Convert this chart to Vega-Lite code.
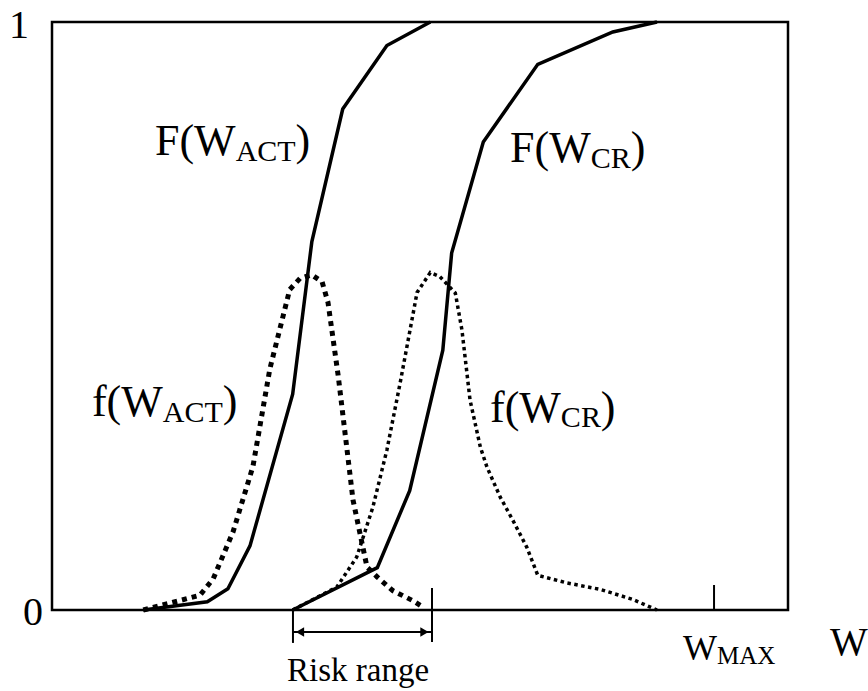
{
  "$schema": "https://vega.github.io/schema/vega-lite/v6.json",
  "width": 736,
  "height": 588,
  "autosize": "none",
  "padding": {"left": 52, "top": 22, "right": 80, "bottom": 81},
  "background": "white",
  "config": {
    "view": {"stroke": "black", "strokeWidth": 2.5},
    "text": {"font": "Liberation Serif", "color": "black"}
  },
  "datasets": {
    "curves": [
      {"series": "F_ACT", "W": 12.4, "v": 0},
      {"series": "F_ACT", "W": 21.1, "v": 0.014},
      {"series": "F_ACT", "W": 23.9, "v": 0.036},
      {"series": "F_ACT", "W": 26.9, "v": 0.109},
      {"series": "F_ACT", "W": 32.7, "v": 0.367},
      {"series": "F_ACT", "W": 35.3, "v": 0.626},
      {"series": "F_ACT", "W": 39.5, "v": 0.852},
      {"series": "F_ACT", "W": 45.5, "v": 0.96},
      {"series": "F_ACT", "W": 51.4, "v": 1.0},
      {"series": "F_CR", "W": 32.7, "v": 0},
      {"series": "F_CR", "W": 44.2, "v": 0.072},
      {"series": "F_CR", "W": 48.6, "v": 0.203},
      {"series": "F_CR", "W": 53.1, "v": 0.442},
      {"series": "F_CR", "W": 54.3, "v": 0.607},
      {"series": "F_CR", "W": 58.6, "v": 0.796},
      {"series": "F_CR", "W": 66.0, "v": 0.928},
      {"series": "F_CR", "W": 76.2, "v": 0.983},
      {"series": "F_CR", "W": 82.2, "v": 1.0},
      {"series": "f_ACT", "W": 12.4, "v": 0},
      {"series": "f_ACT", "W": 20.1, "v": 0.025},
      {"series": "f_ACT", "W": 21.9, "v": 0.053},
      {"series": "f_ACT", "W": 24.6, "v": 0.133},
      {"series": "f_ACT", "W": 27.3, "v": 0.244},
      {"series": "f_ACT", "W": 29.6, "v": 0.41},
      {"series": "f_ACT", "W": 31.4, "v": 0.5},
      {"series": "f_ACT", "W": 32.3, "v": 0.545},
      {"series": "f_ACT", "W": 33.7, "v": 0.564},
      {"series": "f_ACT", "W": 35.3, "v": 0.57},
      {"series": "f_ACT", "W": 36.7, "v": 0.558},
      {"series": "f_ACT", "W": 37.5, "v": 0.523},
      {"series": "f_ACT", "W": 38.9, "v": 0.397},
      {"series": "f_ACT", "W": 40.9, "v": 0.187},
      {"series": "f_ACT", "W": 42.8, "v": 0.073},
      {"series": "f_ACT", "W": 44.2, "v": 0.056},
      {"series": "f_ACT", "W": 46.3, "v": 0.033},
      {"series": "f_ACT", "W": 49.0, "v": 0.016},
      {"series": "f_ACT", "W": 50.4, "v": 0.005},
      {"series": "f_CR", "W": 32.7, "v": 0},
      {"series": "f_CR", "W": 38.7, "v": 0.039},
      {"series": "f_CR", "W": 41.4, "v": 0.09},
      {"series": "f_CR", "W": 43.6, "v": 0.175},
      {"series": "f_CR", "W": 45.5, "v": 0.272},
      {"series": "f_CR", "W": 47.3, "v": 0.386},
      {"series": "f_CR", "W": 49.6, "v": 0.54},
      {"series": "f_CR", "W": 51.4, "v": 0.574},
      {"series": "f_CR", "W": 52.7, "v": 0.567},
      {"series": "f_CR", "W": 54.8, "v": 0.539},
      {"series": "f_CR", "W": 55.7, "v": 0.476},
      {"series": "f_CR", "W": 56.8, "v": 0.357},
      {"series": "f_CR", "W": 58.2, "v": 0.277},
      {"series": "f_CR", "W": 59.1, "v": 0.243},
      {"series": "f_CR", "W": 60.9, "v": 0.192},
      {"series": "f_CR", "W": 62.6, "v": 0.153},
      {"series": "f_CR", "W": 64.5, "v": 0.107},
      {"series": "f_CR", "W": 66.0, "v": 0.059},
      {"series": "f_CR", "W": 70.0, "v": 0.046},
      {"series": "f_CR", "W": 74.5, "v": 0.035},
      {"series": "f_CR", "W": 78.9, "v": 0.018},
      {"series": "f_CR", "W": 82.2, "v": 0}
    ],
    "ticks": [
      {"W": 32.74, "v": 0, "v2": -0.056},
      {"W": 51.63, "v": 0.0374, "v2": -0.0544},
      {"W": 89.95, "v": 0, "v2": 0.0425}
    ],
    "span": [{"W": 32.74, "W2": 51.63, "v": -0.0374}],
    "heads": [
      {"W": 33.7, "v": -0.0374, "end": "left"},
      {"W": 50.6, "v": -0.0374, "end": "right"}
    ],
    "labels": [
      {"kind": "main", "text": "F(W", "W": 13.99, "v": 0.7738},
      {"kind": "sub", "text": "ACT", "W": 24.95, "v": 0.7636},
      {"kind": "main", "text": ")", "W": 33.1, "v": 0.7738},
      {"kind": "main", "text": "F(W", "W": 62.23, "v": 0.7619},
      {"kind": "sub", "text": "CR", "W": 73.19, "v": 0.7517},
      {"kind": "main", "text": ")", "W": 78.62, "v": 0.7619},
      {"kind": "main", "text": "f(W", "W": 5.43, "v": 0.3299},
      {"kind": "sub", "text": "ACT", "W": 15.06, "v": 0.3197},
      {"kind": "main", "text": ")", "W": 23.21, "v": 0.3299},
      {"kind": "main", "text": "f(W", "W": 59.51, "v": 0.3197},
      {"kind": "sub", "text": "CR", "W": 69.14, "v": 0.3112},
      {"kind": "main", "text": ")", "W": 74.57, "v": 0.3197},
      {"kind": "num", "text": "1", "W": -4.48, "v": 0.9728},
      {"kind": "num", "text": "0", "W": -2.58, "v": -0.0255},
      {"kind": "wmax", "text": "W", "W": 85.73, "v": -0.085},
      {"kind": "wmaxsub", "text": "MAX", "W": 90.35, "v": -0.0918},
      {"kind": "title", "text": "W", "W": 105.71, "v": -0.0765},
      {"kind": "note", "text": "Risk range", "W": 31.93, "v": -0.1207}
    ]
  },
  "encoding": {
    "x": {"field": "W", "type": "quantitative", "scale": {"domain": [0, 100], "nice": false, "zero": false}, "axis": null},
    "y": {"field": "v", "type": "quantitative", "scale": {"domain": [0, 1], "nice": false, "zero": false}, "axis": null}
  },
  "layer": [
    {
      "data": {"name": "curves"},
      "transform": [{"filter": "datum.series === 'F_ACT' || datum.series === 'F_CR'"}],
      "mark": {"type": "line", "color": "black", "strokeWidth": 3.5, "clip": false, "strokeJoin": "miter"},
      "encoding": {"detail": {"field": "series"}}
    },
    {
      "data": {"name": "curves"},
      "transform": [{"filter": "datum.series === 'f_ACT'"}],
      "mark": {"type": "line", "color": "black", "strokeWidth": 5, "strokeDash": [5, 5], "clip": false},
      "encoding": {}
    },
    {
      "data": {"name": "curves"},
      "transform": [{"filter": "datum.series === 'f_CR'"}],
      "mark": {"type": "line", "color": "black", "strokeWidth": 3.5, "strokeDash": [3.5, 3.5], "clip": false},
      "encoding": {}
    },
    {
      "data": {"name": "ticks"},
      "mark": {"type": "rule", "color": "black", "strokeWidth": 2, "clip": false},
      "encoding": {"y2": {"field": "v2"}}
    },
    {
      "data": {"name": "span"},
      "mark": {"type": "rule", "color": "black", "strokeWidth": 2, "clip": false},
      "encoding": {"x2": {"field": "W2"}}
    },
    {
      "data": {"name": "heads"},
      "mark": {"type": "point", "filled": true, "color": "black", "size": 90, "opacity": 1, "clip": false},
      "encoding": {
        "shape": {"field": "end", "type": "nominal", "scale": {"domain": ["left", "right"], "range": ["triangle-left", "triangle-right"]}, "legend": null}
      }
    },
    {
      "data": {"name": "labels"},
      "transform": [{"filter": "datum.kind === 'main'"}],
      "mark": {"type": "text", "fontSize": 44, "align": "left", "baseline": "alphabetic"},
      "encoding": {"text": {"field": "text"}}
    },
    {
      "data": {"name": "labels"},
      "transform": [{"filter": "datum.kind === 'sub'"}],
      "mark": {"type": "text", "fontSize": 30, "align": "left", "baseline": "alphabetic"},
      "encoding": {"text": {"field": "text"}}
    },
    {
      "data": {"name": "labels"},
      "transform": [{"filter": "datum.kind === 'num'"}],
      "mark": {"type": "text", "fontSize": 40, "align": "center", "baseline": "alphabetic"},
      "encoding": {"text": {"field": "text"}}
    },
    {
      "data": {"name": "labels"},
      "transform": [{"filter": "datum.kind === 'wmax'"}],
      "mark": {"type": "text", "fontSize": 36, "align": "left", "baseline": "alphabetic"},
      "encoding": {"text": {"field": "text"}}
    },
    {
      "data": {"name": "labels"},
      "transform": [{"filter": "datum.kind === 'wmaxsub'"}],
      "mark": {"type": "text", "fontSize": 25, "align": "left", "baseline": "alphabetic"},
      "encoding": {"text": {"field": "text"}}
    },
    {
      "data": {"name": "labels"},
      "transform": [{"filter": "datum.kind === 'title'"}],
      "mark": {"type": "text", "fontSize": 40, "align": "left", "baseline": "alphabetic"},
      "encoding": {"text": {"field": "text"}}
    },
    {
      "data": {"name": "labels"},
      "transform": [{"filter": "datum.kind === 'note'"}],
      "mark": {"type": "text", "fontSize": 33, "align": "left", "baseline": "alphabetic"},
      "encoding": {"text": {"field": "text"}}
    }
  ]
}
